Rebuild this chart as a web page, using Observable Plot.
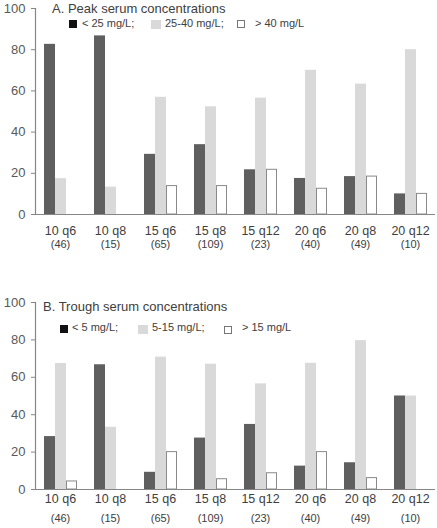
<!DOCTYPE html>
<html><head><meta charset="utf-8">
<script src="https://cdn.jsdelivr.net/npm/d3@7"></script>
<script src="https://cdn.jsdelivr.net/npm/@observablehq/plot@0.6"></script>
<style>
body{margin:0;background:#fff;font-family:"Liberation Sans",Arial,sans-serif;color:#404040}
svg{display:block}
.panel{position:relative;width:437px}
.title{position:absolute;font-size:13px;line-height:13px;white-space:nowrap;color:#404040}
.leg{position:absolute;font-size:11px;line-height:11px;white-space:nowrap;color:#404040}
.sw{position:absolute;box-sizing:border-box}
</style></head><body>
<div id="a" class="panel"></div>
<div id="b" class="panel"></div>
<script>
const regimens = ["10 q6","10 q8","15 q6","15 q8","15 q12","20 q6","20 q8","20 q12"];
const patients = [46,15,65,109,23,40,49,10];
const levels = ["low","mid","high"];
const peakTitle = "A. Peak serum concentrations";
const peakLabels = ["< 25 mg/L;","25-40 mg/L;","> 40 mg/L"];
const peakLow  = [82.6,86.7,29.2,33.9,21.7,17.5,18.4,10];
const peakMid  = [17.4,13.3,56.9,52.3,56.5,70.0,63.3,80];
const peakHigh = [0,0,13.8,13.8,21.7,12.5,18.4,10];
const troughTitle = "B. Trough serum concentrations";
const troughLabels = ["< 5 mg/L;","5-15 mg/L;","> 15 mg/L"];
const troughLow  = [28.3,66.7,9.2,27.5,34.8,12.5,14.3,50];
const troughMid  = [67.4,33.3,70.8,67.0,56.5,67.5,79.6,50];
const troughHigh = [4.3,0,20.0,5.5,8.7,20.0,6.1,0];
const yTicks = [0,20,40,60,80,100];

const fills = ["#5f5f5f","#d9d9d9","#ffffff"];
const axisGray = "#868686";

function makePanel(cfg){
  const rows = [];
  regimens.forEach((r,i)=>{
    [cfg.low,cfg.mid,cfg.high].forEach((arr,j)=>{
      if (arr[i] > 0) rows.push({regimen:r, level:levels[j], value:arr[i]});
    });
  });
  const groups = regimens.map((r,i)=>({regimen:r, n:`(${patients[i]})`}));
  const svg = Plot.plot({
    width: 437, height: cfg.height,
    marginTop: cfg.marginTop, marginBottom: cfg.marginBottom,
    marginLeft: cfg.marginLeft, marginRight: 0,
    style: {fontFamily: "'Liberation Sans', Arial, sans-serif", background: "white", color: "#404040"},
    fx: {domain: regimens, padding: 0, axis: null},
    x: {domain: levels, paddingInner: 0, paddingOuter: 0.73, axis: null},
    y: {domain: [0,100], axis: null},
    color: {domain: levels, range: fills},
    marks: [
      Plot.barY(rows, {filter: d => d.level !== "high", fx: "regimen", x: "level", y: "value", fill: "level"}),
      Plot.barY(rows, {filter: d => d.level === "high", fx: "regimen", x: "level", y: "value", fill: "level", stroke: "#8a8a8a", strokeWidth: 1, insetLeft: 0.5, insetRight: 0.5}),
      Plot.ruleY([0], {stroke: axisGray, strokeWidth: 1.2}),
      Plot.frame({anchor: "left", facet: "super", stroke: axisGray, strokeWidth: 1.2}),
      Plot.axisY({ticks: yTicks, tickSize: 4, tickPadding: 6, fontSize: 13, stroke: axisGray, fill: "#595959", label: null}),
      Plot.text(groups, {fx: "regimen", text: "regimen", frameAnchor: "bottom", lineAnchor: "bottom", dy: cfg.labelDy, fontSize: 12.5, fill: "#404040"}),
      Plot.text(groups, {fx: "regimen", text: "n", frameAnchor: "bottom", lineAnchor: "bottom", dy: cfg.nDy, fontSize: 11, fill: "#404040"})
    ]
  });
  const host = document.getElementById(cfg.id);
  host.appendChild(svg);
  const add = (cls, css, text) => {
    const el = document.createElement("div");
    el.className = cls;
    Object.assign(el.style, css);
    if (text != null) el.textContent = text;
    host.appendChild(el);
  };
  add("title", {left: cfg.titleX + "px", top: cfg.titleY + "px"}, cfg.title);
  const L = cfg.legend;
  add("sw", {left: L.sw[0] + "px", top: L.swY + "px", width: "8px", height: "8px", background: "#111"});
  add("sw", {left: L.sw[1] + "px", top: L.swY + "px", width: "10px", height: "9px", background: "#d9d9d9"});
  add("sw", {left: L.sw[2] + "px", top: (L.swY + 0.5) + "px", width: "8px", height: "8px", background: "#fff", border: "1px solid #777"});
  cfg.labels.forEach((t,k) => add("leg", {left: L.tx[k] + "px", top: L.txY + "px"}, t));
}

makePanel({id: "a", low: peakLow, mid: peakMid, high: peakHigh, title: peakTitle, labels: peakLabels,
  height: 255, marginTop: 8, marginBottom: 41, marginLeft: 33, labelDy: 20, nDy: 33,
  titleX: 52, titleY: 1.5,
  legend: {sw: [69, 151, 237], swY: 19.5, tx: [82, 165, 255], txY: 17.7}});
makePanel({id: "b", low: troughLow, mid: troughMid, high: troughHigh, title: troughTitle, labels: troughLabels,
  height: 273, marginTop: 47, marginBottom: 39, marginLeft: 32, labelDy: 13, nDy: 32,
  titleX: 43, titleY: 45,
  legend: {sw: [60, 138, 224], swY: 70, tx: [72, 152, 242], txY: 66.7}});
</script>
</body></html>
